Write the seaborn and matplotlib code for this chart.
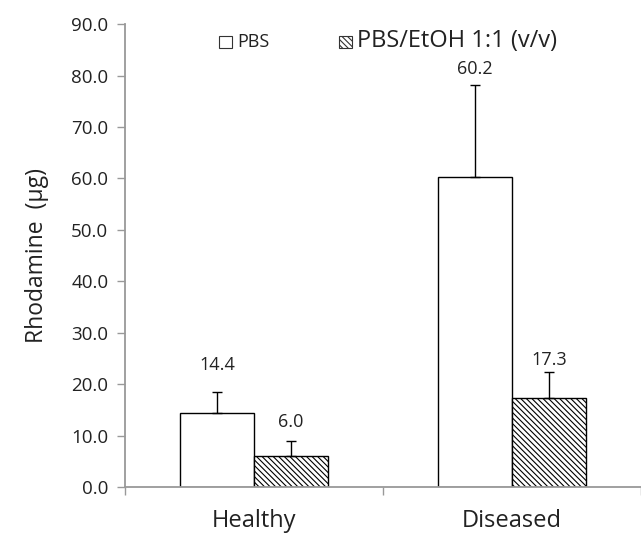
import pandas as pd
import numpy as np
import matplotlib.pyplot as plt
import seaborn as sns
from matplotlib.patches import Patch

# dados
grupos = ['Healthy', 'Diseased']
tratamentos = ['PBS', 'PBS/EtOH 1:1 (v/v)']
pbs = [14.4, 60.2]
etoh = [6.0, 17.3]
erro_pbs = [4.0, 17.9]
erro_etoh = [3.0, 5.1]
rotulos_pbs = ['14.4', '60.2']
rotulos_etoh = ['6.0', '17.3']
# posicao vertical dos rotulos (como no original, colocados à mão)
rotulo_y = [[23.7, 81.3], [12.7, 24.7]]

df = pd.DataFrame({
    'Grupo': grupos * 2,
    'Tratamento': [tratamentos[0]] * 2 + [tratamentos[1]] * 2,
    'Valor': pbs + etoh,
})

sns.set_theme(style="white")
plt.rcParams['font.family'] = ['Open Sans', 'DejaVu Sans']
plt.rcParams['hatch.linewidth'] = 0.8
plt.rcParams['hatch.color'] = 'black'

fig = plt.figure(figsize=(6.41, 5.37), dpi=100)
ax = fig.add_axes([0.195, 0.093, 0.805, 0.862])

sns.barplot(
    data=df, x='Grupo', y='Valor', hue='Tratamento',
    order=grupos, hue_order=tratamentos,
    palette=['white', 'white'], width=0.574,
    edgecolor='black', linewidth=1.0, errorbar=None, legend=False, ax=ax
)

hatches = ['', '\\' * 6]
containers = list(ax.containers)
for i, cont in enumerate(containers):
    erros = erro_pbs if i == 0 else erro_etoh
    vals = pbs if i == 0 else etoh
    rots = rotulos_pbs if i == 0 else rotulos_etoh
    for j, barra in enumerate(cont):
        barra.set_hatch(hatches[i])
        cx = barra.get_x() + barra.get_width() / 2
        ax.errorbar(cx, vals[j], yerr=[[0], [erros[j]]], color='black',
                    elinewidth=1.0, capsize=3.5, capthick=1.0, zorder=1)
        ax.text(cx, rotulo_y[i][j], rots[j], ha='center', va='center',
                fontsize=13, color='#222222')

ax.set_ylim(0, 90)
ax.set_xlim(-0.5, 1.5)
ax.set_yticks(np.arange(0, 91, 10))
ax.set_yticklabels([f'{v:.1f}' for v in np.arange(0, 91, 10)], fontsize=13.5, color='#222222')
ax.set_xticks([-0.5, 0.5, 1.5], minor=False)
ax.set_xticklabels(['', '', ''])
ax.set_xticks([0, 1], minor=True)
ax.set_xticklabels(grupos, minor=True, fontsize=17, color='#222222')
ax.tick_params(axis='x', which='minor', length=0, pad=16)
ax.tick_params(axis='x', which='major', direction='out', length=6, width=1, color='#999999', bottom=True)
ax.tick_params(axis='y', direction='out', length=6, width=1, color='#999999', left=True, pad=6)
ax.set_xlabel('')
ax.set_ylabel('Rhodamine  (µg)', fontsize=16.5, labelpad=16, color='#222222')

for lado in ['top', 'right']:
    ax.spines[lado].set_visible(False)
for lado in ['left', 'bottom']:
    ax.spines[lado].set_color('#999999')
    ax.spines[lado].set_linewidth(1.3)

handles = [Patch(facecolor='white', edgecolor='#333333', linewidth=0.8, hatch=h) for h in hatches]
leg = ax.legend(handles, tratamentos, loc='center', bbox_to_anchor=(0.51, 0.963),
                ncol=2, frameon=False, handlelength=0.8, handleheight=0.8,
                handletextpad=0.35, columnspacing=4.6)
leg.get_texts()[0].set_fontsize(13)
leg.get_texts()[1].set_fontsize(17)
for t in leg.get_texts():
    t.set_color('#222222')

fig.savefig('out.png', dpi=100)
